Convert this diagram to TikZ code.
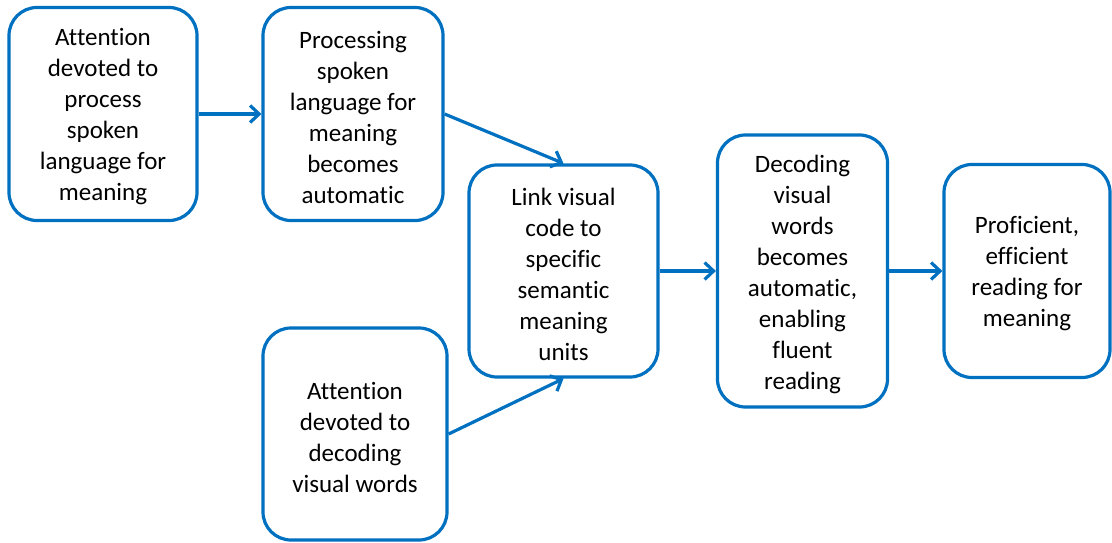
\documentclass[tikz,border=0pt]{standalone}
\usepackage{fontspec}
\setmainfont{Carlito}[Ligatures={NoCommon}]
\usetikzlibrary{arrows.meta}
\definecolor{flowblue}{RGB}{0,112,192}
\tikzset{
  stage/.style={draw=flowblue, line width=3.2pt, rounded corners=28pt, fill=white,
    inner sep=0pt},
  stagetext/.style={align=center, inner sep=0pt, yshift=-3pt,
    font=\fontsize{25}{31}\selectfont, text=black},
  flow/.style={draw=flowblue, line width=3.2pt,
    -{Straight Barb[length=9pt,width=17pt,line width=3.2pt]}}
}
\begin{document}
\begin{tikzpicture}[x=1pt,y=-1pt]
  \useasboundingbox (0,0) rectangle (1112,543);
  \node[stage, minimum width=188pt, minimum height=213pt,
    label={[stagetext]center:Attention\\devoted to\\process\\spoken\\language for\\meaning}]
    (b1) at (103,114) {};
  \node[stage, minimum width=180pt, minimum height=213pt,
    label={[stagetext]center:Processing\\spoken\\language for\\meaning\\becomes\\automatic}]
    (b2) at (353,114) {};
  \node[stage, minimum width=189pt, minimum height=212pt,
    label={[stagetext]center:Link visual\\code to\\specific\\semantic\\meaning\\units}]
    (b3) at (563.5,271) {};
  \node[stage, minimum width=184pt, minimum height=212pt,
    label={[stagetext]center:Attention\\devoted to\\decoding\\visual words}]
    (b4) at (355,434) {};
  \node[stage, minimum width=170pt, minimum height=272pt,
    label={[stagetext]center:Decoding\\visual\\words\\becomes\\automatic,\\enabling\\fluent\\reading}]
    (b5) at (802.5,271) {};
  \node[stage, minimum width=166pt, minimum height=213pt,
    label={[stagetext]center:Proficient,\\efficient\\reading for\\meaning}]
    (b6) at (1027,271) {};
  \draw[flow] (b1.east) -- (b2.west);
  \draw[flow] (b2.east) -- (b3.north);
  \draw[flow] (b4.east) -- (b3.south);
  \draw[flow] (b3.east) -- (b5.west);
  \draw[flow] (b5.east) -- (b6.west);
\end{tikzpicture}
\end{document}
